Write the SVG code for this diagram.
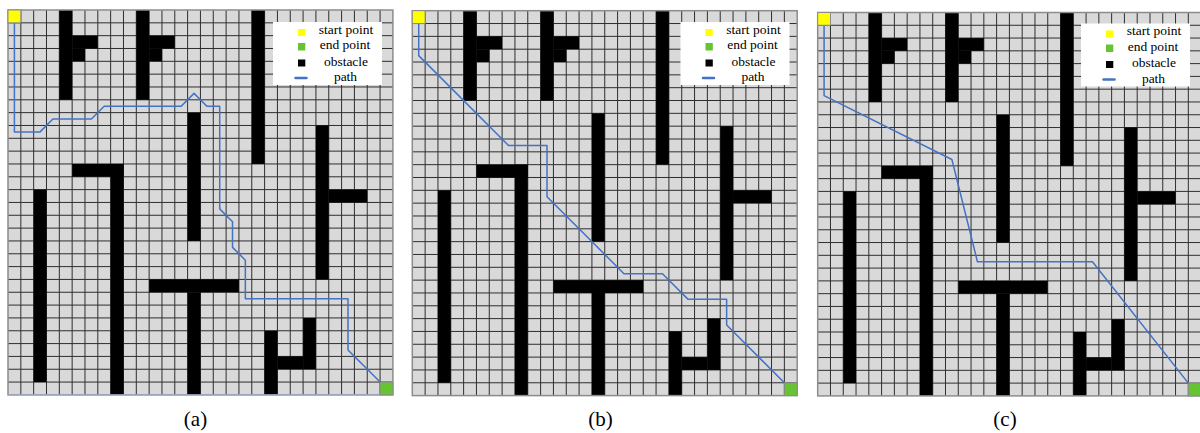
<svg xmlns="http://www.w3.org/2000/svg" xmlns:xlink="http://www.w3.org/1999/xlink" width="1200" height="433" viewBox="0 0 1200 433">
<style>
.cell{fill:#d9d9d9}
.obs{fill:#000}
.grid{fill:none;stroke:#2e2e2e;stroke-width:1}
.border{fill:none;stroke:#8c8c8c;stroke-width:1.5}
.route{fill:none;stroke:#4472c4;stroke-width:1.5;stroke-linejoin:round}
.start{fill:#ffff00;stroke:#8c8c8c;stroke-width:1}
.end{fill:#66c432;stroke:#8c8c8c;stroke-width:1}
.lgbox{fill:#fff}
.lgtxt{font-family:"Liberation Serif","Times New Roman",serif;font-size:13.5px;fill:#000;text-anchor:middle}
.cap{font-family:"Liberation Serif","Times New Roman",serif;font-size:21px;fill:#000;text-anchor:middle}
</style>
<defs>
<g id="map">
<rect class="cell" x="0" y="0" width="384.9" height="384.9"/>
<path class="grid" d="M12.83 0V384.9M25.66 0V384.9M38.49 0V384.9M51.32 0V384.9M64.15 0V384.9M76.98 0V384.9M89.81 0V384.9M102.64 0V384.9M115.47 0V384.9M128.3 0V384.9M141.13 0V384.9M153.96 0V384.9M166.79 0V384.9M179.62 0V384.9M192.45 0V384.9M205.28 0V384.9M218.11 0V384.9M230.94 0V384.9M243.77 0V384.9M256.6 0V384.9M269.43 0V384.9M282.26 0V384.9M295.09 0V384.9M307.92 0V384.9M320.75 0V384.9M333.58 0V384.9M346.41 0V384.9M359.24 0V384.9M372.07 0V384.9M0 12.83H384.9M0 25.66H384.9M0 38.49H384.9M0 51.32H384.9M0 64.15H384.9M0 76.98H384.9M0 89.81H384.9M0 102.64H384.9M0 115.47H384.9M0 128.3H384.9M0 141.13H384.9M0 153.96H384.9M0 166.79H384.9M0 179.62H384.9M0 192.45H384.9M0 205.28H384.9M0 218.11H384.9M0 230.94H384.9M0 243.77H384.9M0 256.6H384.9M0 269.43H384.9M0 282.26H384.9M0 295.09H384.9M0 307.92H384.9M0 320.75H384.9M0 333.58H384.9M0 346.41H384.9M0 359.24H384.9M0 372.07H384.9"/>
<g class="obs">
<rect x="51.32" y="0" width="12.83" height="89.81"/>
<rect x="64.15" y="25.66" width="25.66" height="12.83"/>
<rect x="64.15" y="38.49" width="12.83" height="12.83"/>
<rect x="128.3" y="0" width="12.83" height="89.81"/>
<rect x="141.13" y="25.66" width="25.66" height="12.83"/>
<rect x="141.13" y="38.49" width="12.83" height="12.83"/>
<rect x="243.77" y="0" width="12.83" height="153.96"/>
<rect x="179.62" y="102.64" width="12.83" height="128.3"/>
<rect x="307.92" y="115.47" width="12.83" height="153.96"/>
<rect x="320.75" y="179.62" width="38.49" height="12.83"/>
<rect x="64.15" y="153.96" width="51.32" height="12.83"/>
<rect x="102.64" y="153.96" width="12.83" height="230.94"/>
<rect x="25.66" y="179.62" width="12.83" height="192.45"/>
<rect x="141.13" y="269.43" width="89.81" height="12.83"/>
<rect x="179.62" y="282.26" width="12.83" height="102.64"/>
<rect x="256.6" y="320.75" width="12.83" height="64.15"/>
<rect x="295.09" y="307.92" width="12.83" height="51.32"/>
<rect x="269.43" y="346.41" width="25.66" height="12.83"/>
</g>
<rect class="border" x="0" y="0" width="384.9" height="384.9"/>
</g>
<g id="ends">
<rect class="start" x="0" y="0" width="12.83" height="12.83"/>
<rect class="end" x="372.07" y="372.07" width="12.83" height="12.83"/>
</g>
<g id="legend">
<rect class="lgbox" x="273" y="22" width="109" height="63"/>
<rect x="298" y="29" width="7.3" height="7" fill="#ffff00"/>
<rect x="298" y="43" width="7.3" height="7.5" fill="#66c432"/>
<rect x="298" y="59.5" width="7.3" height="7" fill="#000"/>
<line x1="295.5" y1="78" x2="306.5" y2="78" stroke="#4472c4" stroke-width="2.5" stroke-linecap="round"/>
<text class="lgtxt" x="346" y="33.5">start point</text>
<text class="lgtxt" x="345" y="49">end point</text>
<text class="lgtxt" x="346" y="65.5">obstacle</text>
<text class="lgtxt" x="345.5" y="81">path</text>
</g>
</defs>

<g id="panel-a" transform="translate(8,10)">
<use xlink:href="#map"/>
<line x1="0" y1="385" x2="372" y2="385" stroke="#9fb4dc" stroke-width="1.2"/>
<polyline class="route" points="6.415,6.415 6.415,121.885 32.075,121.885 44.905,109.055 83.395,109.055 96.225,96.225 173.205,96.225 186.035,83.395 198.865,96.225 211.695,96.225 211.695,198.865 224.525,211.695 224.525,237.355 237.355,250.185 237.355,288.675 339.995,288.675 339.995,339.995 372.07,372.07"/>
<use xlink:href="#ends"/>
</g>
<use xlink:href="#legend"/>

<g id="panel-b" transform="translate(412.3,10.7)">
<use xlink:href="#map"/>
<polyline class="route" points="6.415,6.415 6.415,44.905 96.225,134.715 134.715,134.715 134.715,186.035 211.695,263.015 250.185,263.015 275.845,288.675 314.335,288.675 314.335,314.335 372.07,372.07"/>
<use xlink:href="#ends"/>
</g>
<use xlink:href="#legend" transform="translate(407.5,0)"/>

<g id="panel-c" transform="translate(817.7,12.5) scale(0.9961)">
<use xlink:href="#map"/>
<polyline class="route" points="6.415,6.415 6.415,83.395 134.715,147.545 160.375,250.185 275.845,250.185 372.07,372.07"/>
<use xlink:href="#ends"/>
</g>
<use xlink:href="#legend" transform="translate(808,1.5)"/>

<g id="captions">
<text class="cap" x="195.5" y="426">(a)</text>
<text class="cap" x="600.5" y="426">(b)</text>
<text class="cap" x="1005" y="426">(c)</text>
</g>
</svg>
